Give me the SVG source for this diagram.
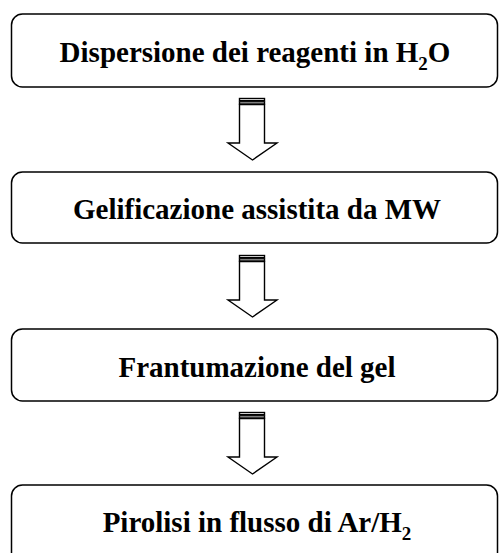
<svg xmlns="http://www.w3.org/2000/svg" width="499" height="553" viewBox="0 0 499 553">
<style>
.box{fill:#fff;stroke:#000;stroke-width:1.5}
.lbl{font-family:"Liberation Serif","Times New Roman",serif;font-weight:bold;font-size:29px;fill:#000;text-anchor:middle}
.sub{font-size:19px}
.arr{fill:#fff;stroke:#000;stroke-width:1.4;stroke-linejoin:miter}
</style>
<rect width="499" height="553" fill="#fff"/>
<g id="connectors">
<g id="arrow1" transform="translate(0,0)">
<rect class="arr" x="239.5" y="98.5" width="25" height="2.2"/>
<rect class="arr" x="239.5" y="101.8" width="25" height="2.2"/>
<path class="arr" d="M239.5,104.5 H264.5 V143 H277 L252.5,160 L228,143 H239.5 Z"/>
</g>
<g id="arrow2" transform="translate(0,157)">
<rect class="arr" x="239.5" y="98.5" width="25" height="2.2"/>
<rect class="arr" x="239.5" y="101.8" width="25" height="2.2"/>
<path class="arr" d="M239.5,104.5 H264.5 V143 H277 L252.5,160 L228,143 H239.5 Z"/>
</g>
<g id="arrow3" transform="translate(0,314)">
<rect class="arr" x="239.5" y="98.5" width="25" height="2.2"/>
<rect class="arr" x="239.5" y="101.8" width="25" height="2.2"/>
<path class="arr" d="M239.5,104.5 H264.5 V143 H277 L252.5,160 L228,143 H239.5 Z"/>
</g>
</g>
<g id="node1">
<rect class="box" x="11.5" y="14" width="486" height="73" rx="11"/>
<text class="lbl" x="255" y="62">Dispersione dei reagenti in H<tspan class="sub" dy="8">2</tspan><tspan dy="-8">O</tspan></text>
</g>
<g id="node2">
<rect class="box" x="11.5" y="172" width="486" height="71" rx="11"/>
<text class="lbl" x="257" y="219">Gelificazione assistita da MW</text>
</g>
<g id="node3">
<rect class="box" x="11.5" y="329" width="486" height="72" rx="11"/>
<text class="lbl" x="257" y="376.5">Frantumazione del gel</text>
</g>
<g id="node4">
<rect class="box" x="11.5" y="485" width="486" height="80" rx="11"/>
<text class="lbl" x="257" y="532">Pirolisi in flusso di Ar/H<tspan class="sub" dy="8">2</tspan></text>
</g>
</svg>
